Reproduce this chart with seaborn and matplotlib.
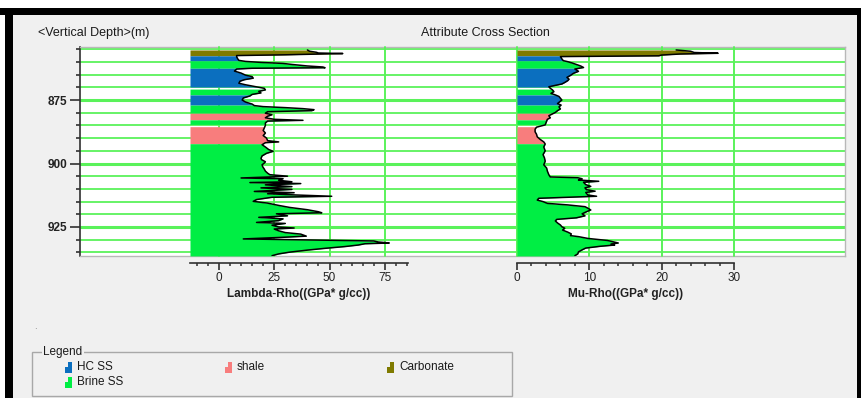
import numpy as np
import matplotlib
matplotlib.use("Agg")
import matplotlib.pyplot as plt
from matplotlib.patches import Rectangle
from matplotlib.ticker import FixedLocator, MultipleLocator
import seaborn as sns

sns.set_theme(style="ticks")
plt.rcParams["font.family"] = ["Liberation Sans", "DejaVu Sans"]

# ---------------- well-log data (depth in m) ----------------
lr_depth = [855.3, 855.8, 856.2, 856.5, 856.7, 856.9, 857.2, 857.5,
            858.0, 858.8, 859.4,
            859.8, 860.2, 860.6, 861.0, 861.6, 862.0, 862.3, 862.5,
            862.8, 863.6, 864.4, 865.2, 865.8, 866.4, 867.0, 867.6, 868.4, 869.0, 869.8,
            870.4, 871.0, 871.6, 872.2, 872.8,
            873.4, 874.2, 875.0, 875.8, 876.6,
            877.2, 877.6, 878.0, 878.4, 878.8, 879.2, 879.6,
            880.2, 880.8, 881.4, 882.0, 882.6,
            883.0, 883.3, 884.0,
            885.0, 886.0, 887.0, 888.0, 889.0, 890.0, 891.0, 891.5, 891.8,
            892.6, 893.5, 894.5, 895.2, 896.0, 897.0, 898.0, 898.5, 899.3, 899.8,
            900.5, 901.3, 902.2, 903.0, 903.8, 904.4, 905.0, 905.3, 905.7, 906.0,
            906.6, 907.2, 907.5, 907.9, 908.4, 909.1, 909.6, 910.2, 910.8,
            911.0, 911.5, 911.9, 912.4, 912.9, 913.3, 914.2, 914.9, 915.6, 916.5,
            917.3, 918.2, 919.0, 919.4, 919.8, 920.6, 921.2, 921.8, 922.5, 923.2,
            923.6, 924.3, 925.0, 925.4, 925.8, 926.5, 927.2, 927.8, 928.6, 929.1,
            929.7, 930.1, 930.5, 930.9, 931.3, 931.6, 932.1, 932.7, 933.4, 934.1,
            934.9, 935.6, 936.3]
lr_value = [40, 41, 44, 45, 56, 45, 30, 8,
            8, 8.5, 9,
            12, 19, 29, 33, 40, 47, 48, 15,
            8, 7, 10, 12, 15, 15.5, 11.5, 9.5, 9, 12, 17,
            20.5, 21, 18, 19, 15,
            14, 11, 10.5, 12, 15,
            16, 20, 30, 38, 43, 42, 22,
            21, 24, 22, 21, 25,
            38, 22, 21,
            21, 20.5, 20, 21, 20, 21.5, 22, 27, 21,
            19.5, 21, 22.5, 24.5, 21.5, 19.5, 19, 19.3, 21, 20.5,
            19.5, 19.8, 20.5, 21, 22, 23, 31, 23, 10, 29,
            27, 33, 14, 37, 21, 33, 19, 33, 20,
            16, 34, 22, 35, 51, 24, 17, 15.5, 22, 27,
            32, 40, 45, 46.5, 26, 31, 18, 29, 27, 17,
            30, 24, 27, 34, 25, 27, 30, 37, 39.5, 28,
            11, 40, 70, 72, 77, 66, 63, 57, 48, 40,
            32, 27, 24]

mr_depth = [855.3, 855.8, 856.3, 856.6, 856.9, 857.3, 857.6,
            857.9, 858.8, 859.5,
            859.9, 860.4, 861.0, 861.6, 862.2, 862.5,
            862.8, 863.7, 864.5, 865.3, 866.1, 866.8, 867.4, 868.1, 868.7, 869.3, 869.8,
            870.4, 871.0, 871.7, 872.4, 873.0,
            873.6, 874.3, 875.0, 875.7, 876.4,
            877.0, 877.7, 878.5, 879.2, 879.9, 880.6,
            881.2, 882.0, 882.6,
            883.3, 884.0, 884.8,
            885.7, 886.5, 887.5, 888.5, 889.5, 890.5, 891.5, 892.3,
            893.5, 895.0, 896.5, 897.8, 899.1, 900.5, 901.8, 903.0, 904.4, 905.3,
            905.6, 906.0, 906.5, 907.0, 907.4, 908.3, 909.0, 909.6, 910.3, 910.9,
            911.4, 912.4, 912.9, 913.3, 913.7, 914.4, 915.0, 915.7, 916.3, 917.0,
            917.6, 918.3, 919.0, 919.8, 920.6, 921.4, 922.0, 922.6, 923.4, 924.2,
            924.9, 925.5, 926.2, 927.0, 927.7, 928.4, 928.8, 929.5, 930.3, 930.9,
            931.3, 931.7, 932.1, 932.6, 933.3, 934.0, 934.8, 935.6, 936.3]
mr_value = [22, 24, 24.5, 27.8, 22.5, 20, 19.6,
            6.0, 6.2, 6.4,
            7.0, 7.6, 8.2, 8.8, 9.2, 8.6,
            8.0, 8.5, 7.8, 7.4, 6.9, 7.2, 7.0, 6.6, 6.2, 5.2, 4.4,
            4.6, 4.9, 5.1, 4.7, 5.3,
            5.8, 6.0, 6.2, 5.9, 5.6,
            6.1, 5.8, 6.0, 5.6, 5.3, 4.8,
            4.4, 4.6, 4.2,
            4.1, 4.0, 3.9,
            2.7, 2.5, 2.5, 2.7, 2.8, 3.2, 3.7, 3.9,
            3.7, 3.9, 3.6, 3.8, 3.9, 3.7, 4.1, 4.2, 4.4, 4.6,
            8.4, 9.0, 8.5, 11.3, 9.2, 9.5, 10.2, 9.4, 9.6, 10.8,
            9.5, 9.8, 11.0, 7.0, 3.0, 2.8, 3.6, 4.2, 7.0, 9.4,
            9.8, 10.2, 9.6, 9.0, 9.4, 8.2, 5.5, 5.3, 5.6, 6.0,
            6.2, 6.6, 6.3, 7.0, 7.5, 7.4, 8.5, 9.8, 12.5, 13.4,
            14.0, 13.0, 13.5, 11.5, 9.5, 9.0, 8.5, 8.4, 8.0]

# lithology intervals (unclassified thin gaps are left open)
litho_top = [855.3, 857.6, 859.6, 862.5, 870.7, 873.0, 877.0, 880.2, 882.8, 885.5, 892.2]
litho_base = [857.6, 859.6, 862.5, 869.9, 873.0, 877.0, 880.2, 882.8, 884.6, 892.2, 936.4]
litho_name = ["Carbonate", "HC SS", "Brine SS", "HC SS", "Brine SS", "HC SS",
              "Brine SS", "shale", "Brine SS", "shale", "Brine SS"]

legend_names = ["HC SS", "shale", "Carbonate", "Brine SS"]
litho_colors = {"HC SS": "#0b6fbf", "shale": "#f87d7d",
                "Carbonate": "#7f7a00", "Brine SS": "#00ee44"}

depth_major = [875, 900, 925]
depth_minor = list(range(855, 940, 5))
lr_ticks = [0, 25, 50, 75]
mr_ticks = [0, 10, 20, 30]

# ---------------- layout helpers ----------------
W, H = 862, 398
D_TOP, D_BOT = 854.13, 936.42
GRID = "#5af25a"
AXC = "#303030"

fig = plt.figure(figsize=(W / 100, H / 100), dpi=100)
fig.patch.set_facecolor("#f0f0f0")


def box(x, y, w, h):
    return [x / W, 1 - (y + h) / H, w / W, h / H]


def rect(x, y, w, h, **kw):
    kw.setdefault("edgecolor", "none")
    fig.add_artist(Rectangle((x / W, 1 - (y + h) / H), w / W, h / H,
                             transform=fig.transFigure, **kw))


# window frame
rect(0, 0, W, 8, facecolor="white")
rect(0, 8, 5, H - 8, facecolor="white")
rect(0, 8, W, 7, facecolor="black")
rect(5, 8, 8, H - 8, facecolor="black")
rect(857, 8, 5, H - 8, facecolor="black")

# ---------------- depth grid panel ----------------
ax_bg = fig.add_axes(box(80, 47, 765, 209))
ax_bg.set_zorder(0)
ax_bg.set_facecolor("white")
ax_bg.set_xlim(0, 1)
ax_bg.set_ylim(D_BOT, D_TOP)
for d in depth_minor:
    if D_TOP < d < D_BOT:
        ax_bg.axhline(d, color=GRID, lw=2.2 if d in depth_major else 1.3, zorder=1)
ax_bg.set_xticks([])
ax_bg.set_yticks(depth_major)
ax_bg.yaxis.set_minor_locator(FixedLocator([d for d in depth_minor if D_TOP < d < D_BOT]))
ax_bg.tick_params(axis="y", which="major", length=7, width=1.2, color=AXC,
                  labelsize=8.5, labelcolor="#222222", pad=2, left=True)
ax_bg.tick_params(axis="y", which="minor", length=3, width=1.2, color=AXC, left=True)
for lbl in ax_bg.get_yticklabels():
    lbl.set_fontweight("bold")
for s in ["top", "right", "bottom"]:
    ax_bg.spines[s].set_color("#b8b8b8")
    ax_bg.spines[s].set_linewidth(1.0)
ax_bg.spines["left"].set_color(AXC)
ax_bg.spines["left"].set_linewidth(1.2)


def fill_track(ax, depth, value, x0):
    depth = np.asarray(depth, float)
    value = np.asarray(value, float)
    for top, base, name in zip(litho_top, litho_base, litho_name):
        inside = (depth > top) & (depth < base)
        d = np.concatenate([[top], depth[inside], [base]])
        v = np.interp(d, depth, value)
        ax.fill_betweenx(d, x0, v, color=litho_colors[name], lw=0, zorder=2)


def track(xpx, wpx, xlim, ticks, minor_step, depth, value, label):
    ax = fig.add_axes(box(xpx, 47, wpx, 209))
    ax.set_zorder(2)
    ax.set_facecolor("none")
    for t in ticks:
        ax.axvline(t, color=GRID, lw=1.4, zorder=1, clip_on=False)
    fill_track(ax, depth, value, xlim[0])
    sns.lineplot(x=value, y=depth, orient="y", sort=False, estimator=None,
                 color="black", linewidth=1.1, ax=ax, zorder=3)
    ax.set_xlim(*xlim)
    ax.set_ylim(D_BOT, D_TOP)
    ax.set_yticks([])
    ax.set_ylabel("")
    ax.set_xticks(ticks)
    ax.xaxis.set_minor_locator(MultipleLocator(minor_step))
    ax.tick_params(axis="x", which="major", length=5, width=1.2, color=AXC,
                   labelsize=8.5, labelcolor="#222222", pad=2, bottom=True)
    ax.tick_params(axis="x", which="minor", length=2.5, width=1.1, color=AXC, bottom=True)
    for lbl in ax.get_xticklabels():
        lbl.set_fontweight("bold")
    for s in ["top", "right", "left"]:
        ax.spines[s].set_visible(False)
    ax.spines["bottom"].set_position(("outward", 4.7))
    ax.spines["bottom"].set_color(AXC)
    ax.spines["bottom"].set_linewidth(1.2)
    ax.set_xlabel(label, fontsize=8.5, fontweight="bold", color="#222222", labelpad=2.5)
    return ax


ax_l = track(190, 218, (-13.1, 85.5), lr_ticks, 5, lr_depth, lr_value,
             "Lambda-Rho((GPa* g/cc))")
ax_r = track(517, 217, (0, 30), mr_ticks, 2, mr_depth, mr_value,
             "Mu-Rho((GPa* g/cc))")

# headings
fig.text(38 / W, 1 - 33 / H, "<Vertical Depth>(m)", fontsize=9, color="#1a1a1a",
         ha="left", va="center")
fig.text(485 / W, 1 - 33 / H, "Attribute Cross Section", fontsize=9, color="#1a1a1a",
         ha="center", va="center")
fig.text(35 / W, 1 - 326 / H, ".", fontsize=7, color="#808080", ha="center", va="center")

# legend group box
rect(32, 352, 480, 44, facecolor="none", edgecolor="#a8a8a8", linewidth=1.0)
fig.text(43 / W, 1 - 352 / H, "Legend", fontsize=8.5, color="#1a1a1a", ha="left",
         va="center", bbox=dict(facecolor="#f0f0f0", edgecolor="none", pad=1.0))
legend_pos = [(65, 367), (225, 367), (387, 367), (65, 382)]
for name, (lx, ly) in zip(legend_names, legend_pos):
    c = litho_colors[name]
    rect(lx + 3.5, ly - 5, 3.5, 11, facecolor=c)
    rect(lx, ly, 3.5, 6, facecolor=c)
    fig.text((lx + 12) / W, 1 - ly / H, name, fontsize=8.5, color="#1a1a1a",
             ha="left", va="center")

fig.savefig("out.png", dpi=100, facecolor=fig.get_facecolor())
